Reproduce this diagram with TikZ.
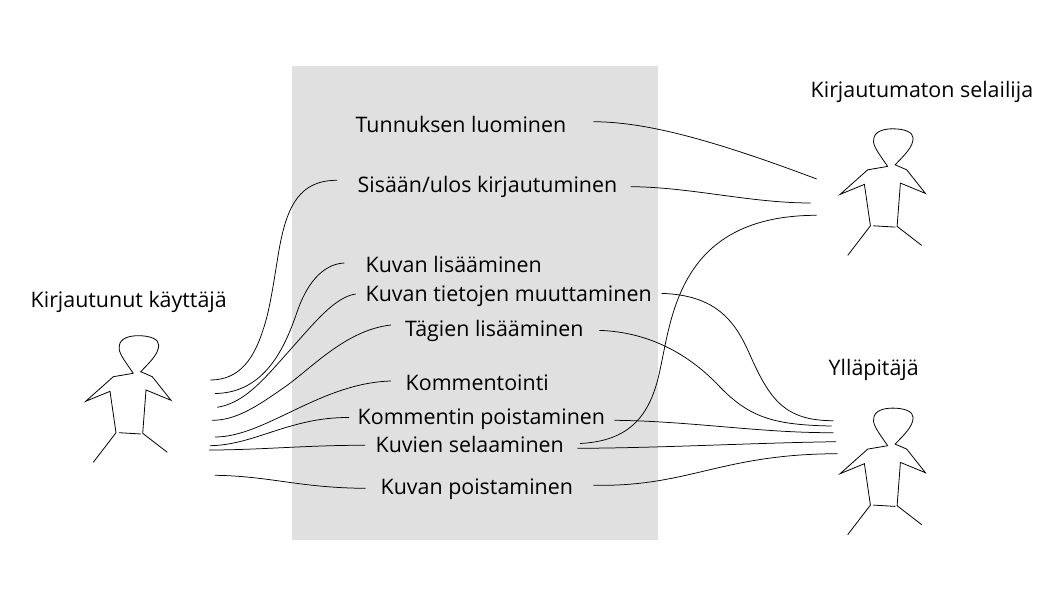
\documentclass[tikz,border=0pt]{standalone}
\usepackage{fontspec}
\setmainfont{Open Sans}
\newcommand{\stickfig}[2]{%
\begin{scope}[shift={(#1,#2)}]
\draw[figline] (133.3,373.3) .. controls (124,360) and (118,352) .. (119.3,346.7)
  .. controls (119.3,338) and (130,335.7) .. (138.3,335.7)
  .. controls (150,335.7) and (158.7,339) .. (158.7,345)
  .. controls (158.7,354) and (150,362) .. (140.7,371.7)
  -- (152.3,376.7) -- (171,400.3) -- (146,390) -- (142.7,433.3) -- (167.3,452.3);
\draw[figline] (133.3,373.3) -- (113.3,376.7) -- (85.7,401.3) -- (110,391.3) -- (116,432.7) -- (93.3,462.3);
\draw[figline] (119,432.7) -- (141,434);
\end{scope}}
\begin{document}
\begin{tikzpicture}[x=1pt,y=-1pt,
 lab/.style={font=\fontsize{21.4}{24}\selectfont,inner sep=0pt,anchor=base west,text=black},
 conn/.style={draw=black,line width=0.75pt},
 figline/.style={draw=black,line width=0.8pt,line join=miter}]
\useasboundingbox (0,0) rectangle (1051,599);
\fill[black!12] (292,66) rectangle (658,540);
% labels
\node[lab] (tunnus) at (355.5,132.5) {Tunnuksen luominen};
\node[lab] (sisaan) at (357.5,192) {Sisään/ulos kirjautuminen};
\node[lab] (lisaa) at (365.5,272) {Kuvan lisääminen};
\node[lab] (tiedot) at (365.5,301) {Kuvan tietojen muuttaminen};
\node[lab] (tagit) at (405,336) {Tägien lisääminen};
\node[lab] (komm) at (405.5,390) {Kommentointi};
\node[lab] (kpoisto) at (357.5,424) {Kommentin poistaminen};
\node[lab] (selaa) at (375.5,452.5) {Kuvien selaaminen};
\node[lab] (poisto) at (380.5,494.5) {Kuvan poistaminen};
\node[lab] (kirj) at (30.5,307) {Kirjautunut käyttäjä};
\node[lab] (selailija) at (810.5,97.5) {Kirjautumaton selailija};
\node[lab] (yllapito) at (828.5,375.5) {Ylläpitäjä};
% figures
\stickfig{0}{0}
\stickfig{754.4}{-206.9}
\stickfig{754.4}{72.4}
% connector ends
\foreach \n/\x/\y in {La/210.3/380,Lb/215/393.5,Lc/217.3/407.3,Ld/212/420.3,Le/215/437,Lf/210/445.7,Lg/209/450,Lh/215/475.3,
  Sa/337/180.3,Sb/344.3/263,Sc/355.7/294,Sd/391/325,Se/391/381,Sf/349/417.5,Sg/365/445.3,Sh/365.7/488.3,
  Ra/593.3/121.7,Rb/630.7/186.7,Rc/580/443.5,Rd/661.7/293.4,Re/599.4/330.4,Rf/614.3/420.3,Rg/577.3/448.3,Rh/593.3/485.3,
  Ta/816.7/179,Tb/810.7/203,Tc/816.7/215.3,Td/833.3/420.7,Te/831.7/426,Tf/833.3/432.7,Tg/836/441.7,Th/837.7/453.7}
  {\coordinate (\n) at (\x,\y);}
% left connectors
\draw[conn] (Sa) .. controls (300,180.3) and (287,205) .. (279,250) .. controls (274,280) and (270,310) .. (263,330) .. controls (254,358) and (240,380) .. (La);
\draw[conn] (Sb) .. controls (322,264) and (306,285) .. (296.7,313) .. controls (285,347) and (265,393) .. (Lb);
\draw[conn] (Sc) .. controls (335,297) and (315,322) .. (290,350) .. controls (265,378) and (245,403) .. (Lc);
\draw[conn] (Sd) .. controls (345,330) and (310,370) .. (283.3,388) .. controls (255,408) and (235,420.3) .. (Ld);
\draw[conn] (Se) .. controls (320,383) and (265,437) .. (Le);
\draw[conn] (Sf) .. controls (290,417) and (255,445) .. (Lf);
\draw[conn] (Sg) .. controls (310,445) and (260,450) .. (Lg);
\draw[conn] (Sh) .. controls (300,488) and (270,476) .. (Lh);
% right connectors
\draw[conn] (Ra) .. controls (640,122) and (700,135) .. (Ta);
\draw[conn] (Rb) .. controls (690,187) and (750,203) .. (Tb);
\draw[conn] (Rc) .. controls (628,441) and (650,418) .. (660,370) .. controls (672,315) and (680,215.3) .. (Tc);
\draw[conn] (Rd) .. controls (715,295) and (735,320) .. (750,355) .. controls (770,400) and (785,420.7) .. (Td);
\draw[conn] (Re) .. controls (650,332) and (690,355) .. (720,387) .. controls (750,418) and (775,425) .. (Te);
\draw[conn] (Rf) .. controls (690,421) and (760,433) .. (Tf);
\draw[conn] (Rg) .. controls (660,448) and (750,443) .. (Tg);
\draw[conn] (Rh) .. controls (690,487) and (720,454) .. (Th);
\end{tikzpicture}
\end{document}
